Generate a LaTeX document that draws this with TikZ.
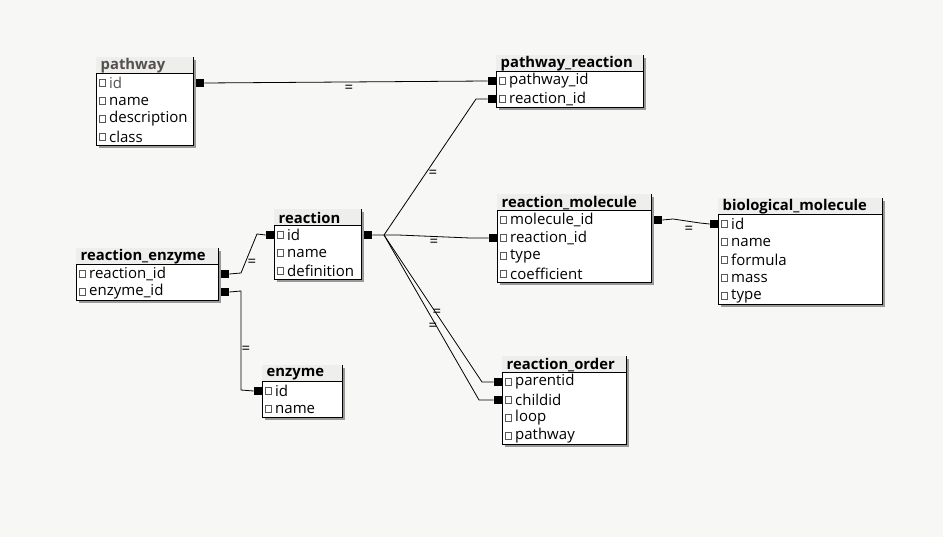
\documentclass[tikz,border=0pt]{standalone}
\usepackage{fontspec}
\setmainfont{Open Sans}
\usetikzlibrary{shadows,calc}
\definecolor{bg}{RGB}{247,247,245}
\definecolor{hdr}{RGB}{238,238,236}
\definecolor{dim}{RGB}{85,80,80}
\tikzset{
  tbl/.style={draw=black, line width=0.9pt, fill=white, anchor=north west, inner sep=0pt,
    drop shadow={shadow xshift=2.5pt, shadow yshift=-2.5pt, fill=black!40, opacity=1}},
  ttl/.style={font=\fontsize{14.8}{16}\selectfont\bfseries, inner sep=0pt, anchor=west},
  fld/.style={font=\fontsize{15}{16}\selectfont, inner sep=0pt, anchor=west},
  fldicon/.style={draw=black!65, fill=white, line width=0.6pt, minimum size=6.5pt, inner sep=0pt},
  key/.style={fill=black, minimum size=8pt, inner sep=0pt},
  conn/.style={draw=black, line width=0.8pt},
  lbl/.style={font=\fontsize{15}{15}\selectfont, inner sep=0pt, text height=4pt, text depth=0pt}
}
% #1 name, #2 left, #3 top, #4 width, #5 number of rows, #6 title
\newcommand\dbtable[6]{%
  \pgfmathsetmacro\tblh{16+18*#5}%
  \node[tbl, minimum width=#4pt, minimum height=\tblh pt] (#1) at (#2,#3) {};
  \fill[hdr] ([shift={(0.45pt,-0.45pt)}]#1.north west) rectangle ([shift={(-0.45pt,-16pt)}]#1.north east);
  \draw[line width=0.9pt] ([yshift=-16pt]#1.north west) -- ([yshift=-16pt]#1.north east);
  \node[ttl] (#1-title) at ([shift={(4.5pt,-9pt)}]#1.north west) {#6};
}
% #1 table, #2 row, #3 node name, #4 text
\newcommand\dbfield[4]{%
  \node[fldicon] (#3-box) at ([shift={(6.5pt,{-8pt-18pt*#2})}]#1.north west) {};
  \node[fld] (#3) at ([shift={(13pt,{-8pt-18pt*#2})}]#1.north west) {#4};
}
\begin{document}
\begin{tikzpicture}[x=1pt,y=-1pt]
  \fill[bg] (0,0) rectangle (943,537);
  \useasboundingbox (0,0) rectangle (943,537);

  % tables
  \dbtable{pw}{96}{57}{97}{4}{\textcolor{dim}{pathway}}
  \dbfield{pw}{1}{pw-id}{\textcolor{dim}{id}}
  \dbfield{pw}{2}{pw-name}{name}
  \dbfield{pw}{3}{pw-desc}{description}
  \dbfield{pw}{4}{pw-class}{class}

  \dbtable{pr}{496}{55}{147}{2}{pathway\_reaction}
  \dbfield{pr}{1}{pr-pw}{pathway\_id}
  \dbfield{pr}{2}{pr-r}{reaction\_id}

  \dbtable{rx}{274}{209}{87}{3}{reaction}
  \dbfield{rx}{1}{rx-id}{id}
  \dbfield{rx}{2}{rx-name}{name}
  \dbfield{rx}{3}{rx-def}{definition}

  \dbtable{re}{76}{248}{142}{2}{reaction\_enzyme}
  \dbfield{re}{1}{re-r}{reaction\_id}
  \dbfield{re}{2}{re-e}{enzyme\_id}

  \dbtable{ez}{262}{365}{80}{2}{enzyme}
  \dbfield{ez}{1}{ez-id}{id}
  \dbfield{ez}{2}{ez-name}{name}

  \dbtable{rm}{497}{194}{154}{4}{reaction\_molecule}
  \dbfield{rm}{1}{rm-m}{molecule\_id}
  \dbfield{rm}{2}{rm-r}{reaction\_id}
  \dbfield{rm}{3}{rm-type}{type}
  \dbfield{rm}{4}{rm-coef}{coefficient}

  \dbtable{bm}{718}{198}{164}{5}{biological\_molecule}
  \dbfield{bm}{1}{bm-id}{id}
  \dbfield{bm}{2}{bm-name}{name}
  \dbfield{bm}{3}{bm-formula}{formula}
  \dbfield{bm}{4}{bm-mass}{mass}
  \dbfield{bm}{5}{bm-type}{type}

  \dbtable{ro}{502}{356}{124}{4}{reaction\_order}
  \dbfield{ro}{1}{ro-p}{parentid}
  \dbfield{ro}{2}{ro-c}{childid}
  \dbfield{ro}{3}{ro-loop}{loop}
  \dbfield{ro}{4}{ro-pw}{pathway}

  % key markers
  \node[key, anchor=west, xshift=2pt] (k-pw) at (pw.north east |- pw-id) {};
  \node[key, anchor=east] (k-prpw) at (pr.north west |- pr-pw) {};
  \node[key, anchor=east] (k-prr) at (pr.north west |- pr-r) {};
  \node[key, anchor=west, xshift=2pt] (k-rxR) at (rx.north east |- rx-id) {};
  \node[key, anchor=east] (k-rxL) at (rx.north west |- rx-id) {};
  \node[key, anchor=west, xshift=2pt] (k-rer) at (re.north east |- re-r) {};
  \node[key, anchor=west, xshift=2pt] (k-ree) at (re.north east |- re-e) {};
  \node[key, anchor=east] (k-ez) at (ez.north west |- ez-id) {};
  \node[key, anchor=east] (k-rmr) at (rm.north west |- rm-r) {};
  \node[key, anchor=west, xshift=2pt] (k-rmm) at (rm.north east |- rm-m) {};
  \node[key, anchor=east] (k-bm) at (bm.north west |- bm-id) {};
  \node[key, anchor=east] (k-rop) at (ro.north west |- ro-p) {};
  \node[key, anchor=east] (k-roc) at (ro.north west |- ro-c) {};

  % connectors
  \coordinate (fan) at (384,235);
  \draw[conn] (k-pw.east) -- (k-prpw.west);
  \draw[conn] (k-rxR.east) -- (fan) -- (476,99) -- (k-prr.west);
  \draw[conn] (fan) -- (398,235) -- (470,238) -- (k-rmr.west);
  \draw[conn] (fan) -- (482,382) -- (k-rop.west);
  \draw[conn] (fan) -- (479,400) -- (k-roc.west);
  \draw[conn] (k-rer.east) -- (241,273) -- (257,234) -- (k-rxL.west);
  \draw[conn] (k-ree.east) -- (241,291) -- (241,390) -- (k-ez.west);
  \draw[conn] (k-rmm.east) -- (673,219) -- (700,223) -- (k-bm.west);

  % relation labels
  \node[lbl] (l1) at (349,91) {=};
  \node[lbl] (l2) at (433,176) {=};
  \node[lbl] (l3) at (434,245) {=};
  \node[lbl] (l4) at (437,315) {=};
  \node[lbl] (l5) at (433,329) {=};
  \node[lbl] (l6) at (252,265) {=};
  \node[lbl] (l7) at (246,352) {=};
  \node[lbl] (l8) at (689,232) {=};
\end{tikzpicture}
\end{document}
